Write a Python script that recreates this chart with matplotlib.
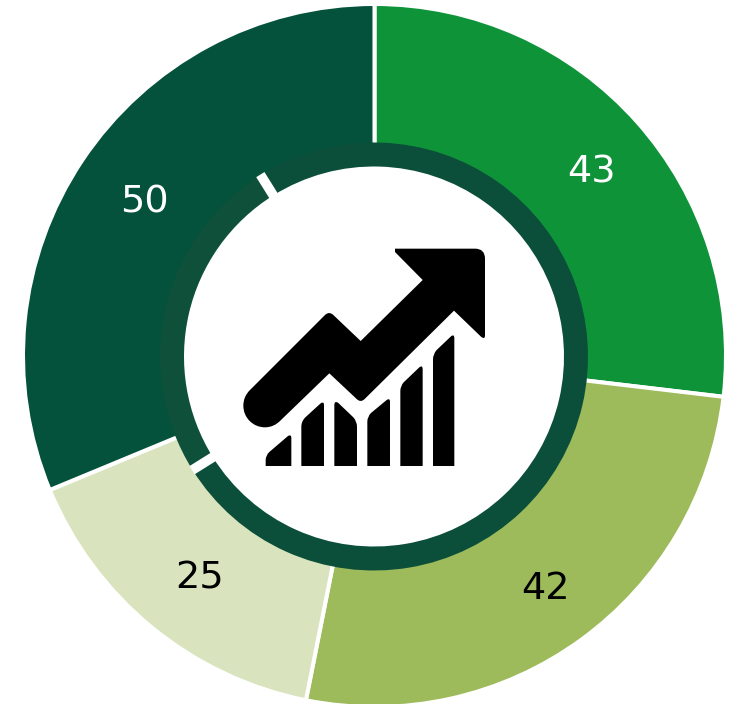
import numpy as np
import matplotlib
matplotlib.use("Agg")
import matplotlib.pyplot as plt
from matplotlib.patches import PathPatch
from matplotlib.path import Path


# -------- DATA --------
outer_values = [43, 42, 25, 50]
outer_colors = ["#0F9339", "#9DBB5A", "#D9E4BF", "#04523B"]
label_colors = ["white", "black", "black", "white"]

ring_values = [75, 25]
ring_colors = ["#0B4F3A", "#0E5039"]

W, H = 731, 704


# -------- ICON SHAPES (zoomed pixel coordinates) --------
# M = move, L = line, Q = rounded corner (control point, end point)
arrow = [("M", (495, 56)), ("L", (735, 56)), ("Q", (765, 56), (765, 86)),
         ("L", (765, 316)), ("Q", (765, 330), (753, 320)), ("L", (672, 242)),
         ("L", (404, 507)), ("Q", (392, 519), (380, 507)), ("L", (298, 430)),
         ("L", (152, 571)), ("Q", (132, 592), (105, 592)), ("Q", (78, 592), (59, 573)),
         ("Q", (40, 554), (40, 527)), ("Q", (40, 500), (59, 481)), ("L", (285, 255)),
         ("Q", (297, 243), (310, 255)),
         ("L", (392, 333)), ("L", (578, 150)), ("L", (495, 66))]

bars = [
    [("M", (107, 708)), ("L", (107, 690)), ("Q", (107, 676), (118, 666)), ("L", (174, 618)),
     ("Q", (184, 612), (184, 624)), ("L", (184, 708))],
    [("M", (214, 708)), ("L", (214, 590)), ("Q", (214, 574), (226, 562)), ("L", (272, 520)),
     ("Q", (282, 513), (282, 526)), ("L", (282, 708))],
    [("M", (313, 708)), ("L", (313, 524)), ("Q", (314, 511), (325, 519)), ("L", (370, 562)),
     ("Q", (381, 574), (381, 590)), ("L", (381, 708))],
    [("M", (412, 708)), ("L", (412, 575)), ("Q", (412, 560), (423, 549)), ("L", (470, 510)),
     ("Q", (480, 503), (480, 516)), ("L", (480, 708))],
    [("M", (511, 708)), ("L", (511, 483)), ("Q", (511, 467), (522, 456)), ("L", (568, 412)),
     ("Q", (578, 404), (578, 418)), ("L", (578, 708))],
    [("M", (609, 708)), ("L", (609, 388)), ("Q", (609, 372), (620, 360)), ("L", (663, 319)),
     ("Q", (673, 311), (673, 325)), ("L", (673, 708))],
]


def icon_point(p):
    # zoom crop started at (230,230) and was scaled 3x
    return (230 + p[0] / 3, H - (230 + p[1] / 3))


def icon_patch(shape):
    verts, codes = [], []
    for step in shape:
        if step[0] == "M":
            verts.append(icon_point(step[1]))
            codes.append(Path.MOVETO)
        elif step[0] == "L":
            verts.append(icon_point(step[1]))
            codes.append(Path.LINETO)
        else:
            verts += [icon_point(step[1]), icon_point(step[2])]
            codes += [Path.CURVE3, Path.CURVE3]
    verts.append(verts[0])
    codes.append(Path.CLOSEPOLY)
    return PathPatch(Path(verts, codes), facecolor="black", edgecolor="none")


# -------- FIGURE --------
fig = plt.figure(figsize=(W / 100, H / 100), dpi=100)
ax = fig.add_axes([0, 0, 1, 1])

outer_center = (374.5, H - 355.5)
ring_center = (374, H - 356.5)
ring_r = 214
ring_w = 24
total = sum(outer_values)

# Outer doughnut
wedges, texts, autotexts = ax.pie(
    outer_values,
    colors=outer_colors,
    center=outer_center,
    radius=351.5,
    startangle=90,
    counterclock=False,
    autopct=lambda p: f"{round(p * total / 100)}",
    pctdistance=0.805,
    wedgeprops=dict(width=147, edgecolor="white", linewidth=2.9),
    textprops=dict(fontsize=27.5, family="DejaVu Sans"),
)
for t, c in zip(autotexts, label_colors):
    t.set_color(c)
    # labels sit a little lower and to the right of the slice middle
    x, y = t.get_position()
    t.set_position((x + 5, y - 4.5))

# Inner ring
ring, _ = ax.pie(
    ring_values,
    colors=ring_colors,
    center=ring_center,
    radius=ring_r,
    startangle=122,
    counterclock=False,
    wedgeprops=dict(width=ring_w, edgecolor="none"),
)

# White gaps between the ring parts
for w in ring:
    a = np.radians(w.theta1)
    ax.plot([ring_center[0] + (ring_r - ring_w - 1) * np.cos(a), ring_center[0] + (ring_r + 0.5) * np.cos(a)],
            [ring_center[1] + (ring_r - ring_w - 1) * np.sin(a), ring_center[1] + (ring_r + 0.5) * np.sin(a)],
            color="white", lw=7, solid_capstyle="butt")

# Icon
ax.add_patch(icon_patch(arrow))
for b in bars:
    ax.add_patch(icon_patch(b))

ax.set_xlim(0, W)
ax.set_ylim(0, H)
ax.axis("off")

fig.savefig("out.png", dpi=100)
